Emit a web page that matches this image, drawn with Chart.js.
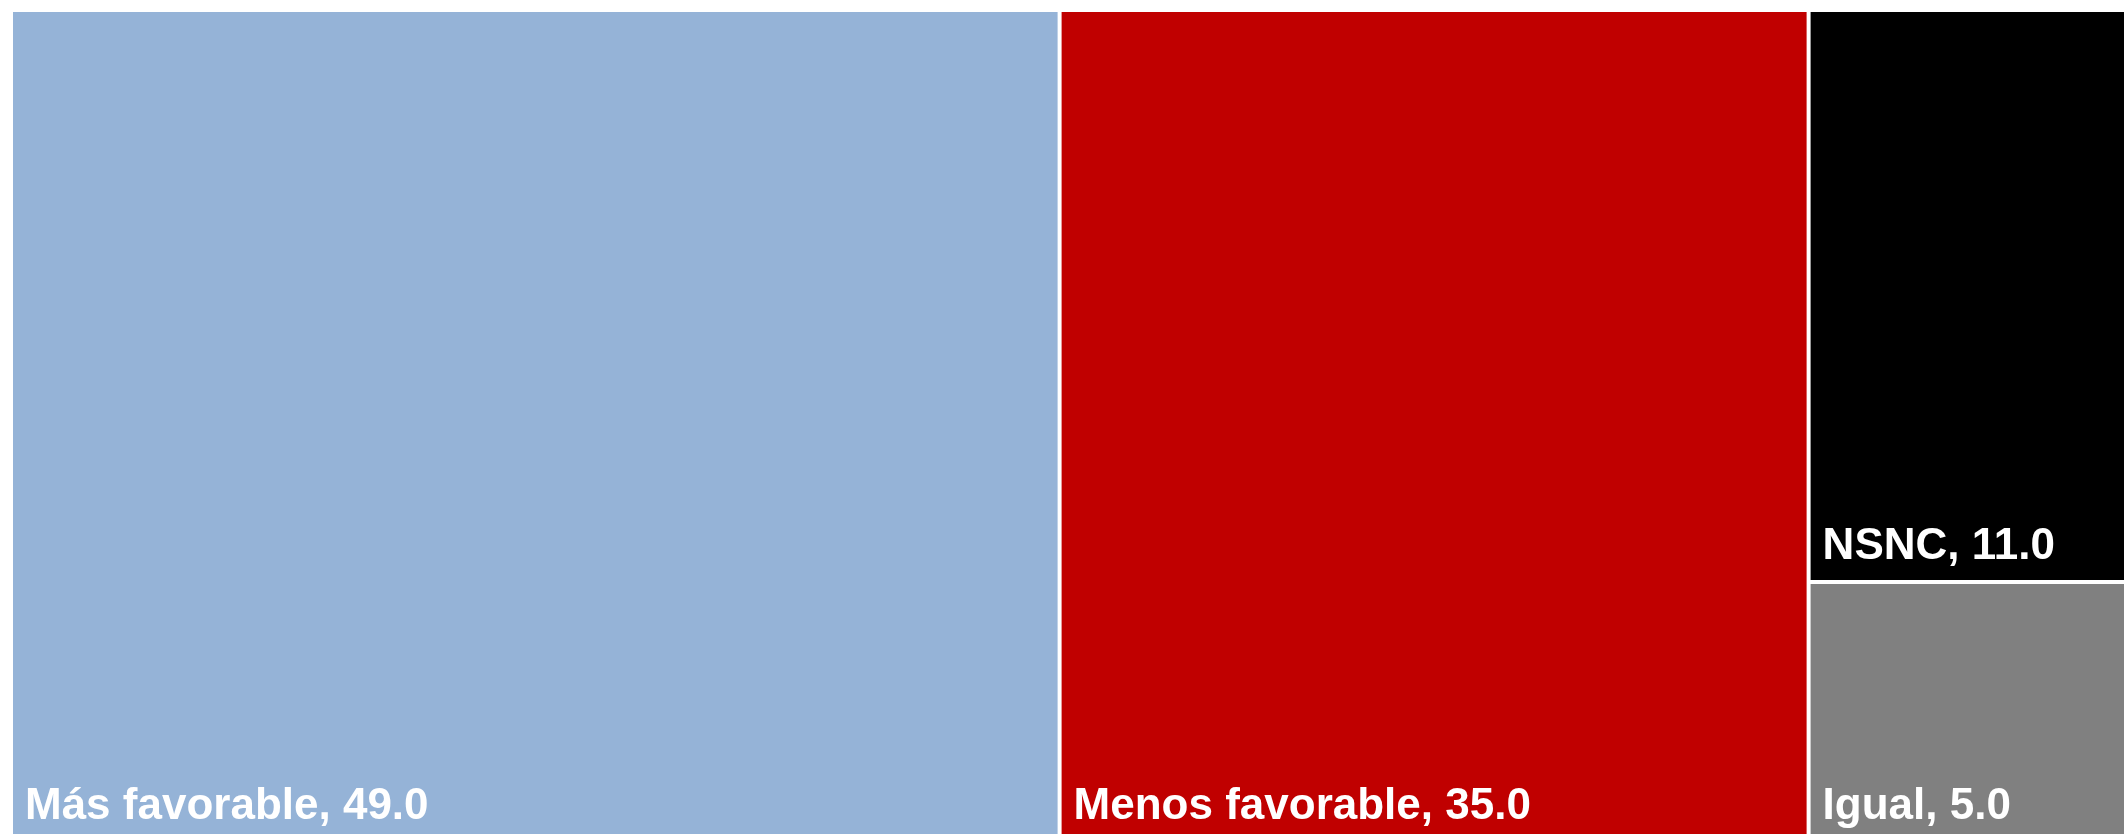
<!DOCTYPE html>
<html>
<head>
<meta charset="utf-8">
<script src="https://cdn.jsdelivr.net/npm/chart.js@4"></script>
<style>
  html, body { margin: 0; padding: 0; background: #ffffff; }
  #wrap { width: 2124px; height: 834px; }
</style>
</head>
<body>
<div id="wrap"><canvas id="c" width="2124" height="834"></canvas></div>
<script>
// ---- data ----
const categories = ['Más favorable', 'Menos favorable', 'NSNC', 'Igual'];
const values = [49.0, 35.0, 11.0, 5.0];
const colors = ['#95B3D7', '#C00000', '#000000', '#808080'];

// squarified treemap layout in pixel space
function worst(row, side) {
  const s = row.reduce((a, b) => a + b.area, 0);
  const mx = Math.max(...row.map(r => r.area));
  const mn = Math.min(...row.map(r => r.area));
  return Math.max((side * side * mx) / (s * s), (s * s) / (side * side * mn));
}
function squarify(items, rect) {
  const out = [];
  let { x, y, w, h } = rect;
  let rest = items.slice();
  while (rest.length) {
    const side = Math.min(w, h);
    const row = [rest.shift()];
    while (rest.length && worst(row.concat([rest[0]]), side) <= worst(row, side)) {
      row.push(rest.shift());
    }
    const s = row.reduce((a, b) => a + b.area, 0);
    if (w >= h) {
      const cw = s / h; let cy = y;
      row.forEach(r => { const rh = r.area / cw; out.push({ ...r, x: x, y: cy, w: cw, h: rh }); cy += rh; });
      x += cw; w -= cw;
    } else {
      const rh = s / w; let cx = x;
      row.forEach(r => { const rw = r.area / rh; out.push({ ...r, x: cx, y: y, w: rw, h: rh }); cx += rw; });
      y += rh; h -= rh;
    }
  }
  return out;
}

const treemapPlugin = {
  id: 'treemap',
  afterDatasetsDraw(chart) {
    const xs = chart.scales.x, ys = chart.scales.y;
    const x0 = xs.getPixelForValue(0), x1 = xs.getPixelForValue(1);
    const y0 = ys.getPixelForValue(0), y1 = ys.getPixelForValue(1);
    const W = x1 - x0, H = y1 - y0;
    const total = values.reduce((a, b) => a + b, 0);
    const items = categories.map((c, i) => ({ label: c, value: values[i], color: colors[i], area: values[i] / total * W * H }))
      .sort((a, b) => b.value - a.value);
    const cells = squarify(items, { x: x0, y: y0, w: W, h: H });
    const ctx = chart.ctx;
    ctx.save();
    const g = 2;
    cells.forEach(c => {
      ctx.fillStyle = c.color;
      ctx.fillRect(c.x + g, c.y + g, c.w - 2 * g, c.h - 2 * g);
    });
    ctx.fillStyle = '#ffffff';
    ctx.font = 'bold 44px "Liberation Sans", Arial, sans-serif';
    ctx.textAlign = 'left';
    ctx.textBaseline = 'alphabetic';
    cells.forEach(c => {
      ctx.fillText(c.label + ', ' + c.value.toFixed(1), c.x + 14, c.y + c.h - 23);
    });
    ctx.restore();
  }
};

new Chart(document.getElementById('c'), {
  type: 'scatter',
  data: { datasets: [{ data: [] }] },
  options: {
    responsive: false,
    animation: false,
    layout: { padding: { left: 11, top: 10, right: 0, bottom: 0 } },
    plugins: { legend: { display: false }, tooltip: { enabled: false } },
    scales: {
      x: { type: 'linear', display: false, min: 0, max: 2113 / 2140 },
      y: { type: 'linear', display: false, reverse: true, min: 0, max: 824 / 832 }
    }
  },
  plugins: [treemapPlugin]
});
</script>
</body>
</html>
